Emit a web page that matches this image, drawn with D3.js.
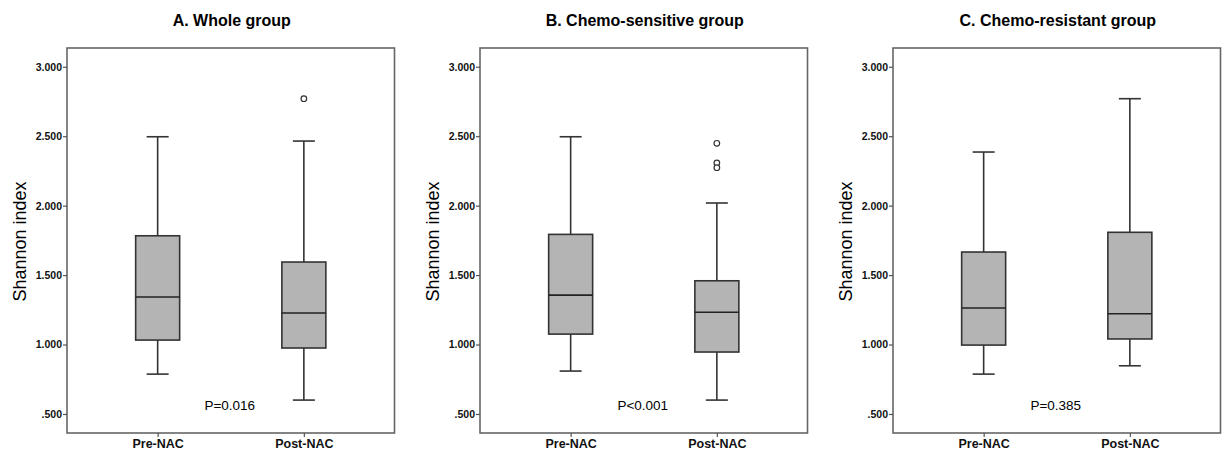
<!DOCTYPE html>
<html><head><meta charset="utf-8">
<script src="https://cdn.jsdelivr.net/npm/d3@7"></script>
<style>body{margin:0;background:#fff;} svg{display:block;}</style>
</head><body>
<script>
const categories = ["Pre-NAC", "Post-NAC"];
const panelTitles = ["A. Whole group", "B. Chemo-sensitive group", "C. Chemo-resistant group"];
const pLabels = ["P=0.016", "P<0.001", "P=0.385"];
const yTicks = [0.5, 1.0, 1.5, 2.0, 2.5, 3.0];
const yTickLabels = [".500", "1.000", "1.500", "2.000", "2.500", "3.000"];
// [lower whisker, Q1, median, Q3, upper whisker]
const wholePre = [0.787, 1.032, 1.342, 1.783, 2.496];
const wholePost = [0.600, 0.975, 1.227, 1.594, 2.465];
const wholePostOutliers = [2.770];
const sensPre = [0.809, 1.075, 1.356, 1.793, 2.496];
const sensPost = [0.600, 0.946, 1.232, 1.459, 2.019];
const sensPostOutliers = [2.449, 2.307, 2.273];
const resPre = [0.787, 0.996, 1.263, 1.666, 2.386];
const resPost = [0.847, 1.040, 1.222, 1.808, 2.770];

const panels = [
  {title: panelTitles[0], p: pLabels[0], stats: [wholePre, wholePost], outliers: [[], wholePostOutliers]},
  {title: panelTitles[1], p: pLabels[1], stats: [sensPre, sensPost], outliers: [[], sensPostOutliers]},
  {title: panelTitles[2], p: pLabels[2], stats: [resPre, resPost], outliers: [[], []]}
];

const W = 1226, H = 454;
const svg = d3.select("body").append("svg").attr("width", W).attr("height", H);
const frameLefts = [67, 480, 893];
const frameW = 327.5, plotTop = 48, plotBottom = 433;
const y = d3.scaleLinear().domain([0.363, 3.135]).range([plotBottom, plotTop]);
const font = "Arial, 'Liberation Sans', sans-serif";

panels.forEach((pn, i) => {
  const x0 = frameLefts[i];
  const g = svg.append("g");
  const x = d3.scalePoint().domain(categories).range([x0, x0 + frameW]).padding(0.62);

  // frame
  g.append("rect").attr("x", x0).attr("y", plotTop).attr("width", frameW).attr("height", plotBottom - plotTop)
    .attr("fill", "none").attr("stroke", "#666").attr("stroke-width", 1.6);

  // y axis
  const ya = g.append("g").attr("transform", `translate(${x0},0)`)
    .call(d3.axisLeft(y).tickValues(yTicks).tickSize(4).tickPadding(1)
      .tickFormat((d, k) => yTickLabels[k]));
  ya.select(".domain").remove();
  ya.selectAll("line").attr("stroke", "#555").attr("stroke-width", 1.2);
  ya.selectAll("text").attr("font-family", font).attr("font-weight", "bold")
    .attr("font-size", "10.5px").attr("fill", "#111");

  // x axis
  const xa = g.append("g").attr("transform", `translate(0,${plotBottom})`)
    .call(d3.axisBottom(x).tickSize(4).tickPadding(2));
  xa.select(".domain").remove();
  xa.selectAll("line").attr("stroke", "#555").attr("stroke-width", 1.2);
  xa.selectAll("text").attr("font-family", font).attr("font-weight", "bold")
    .attr("font-size", "12.5px").attr("fill", "#111");

  // title
  g.append("text").attr("x", x0 + frameW / 2 + 1).attr("y", 26).attr("text-anchor", "middle")
    .attr("font-family", font).attr("font-weight", "bold").attr("font-size", "16px")
    .attr("fill", "#000").text(pn.title);

  // y label
  g.append("text").attr("transform", `translate(${x0 - 41},${(plotTop + plotBottom) / 2 + 1}) rotate(-90)`)
    .attr("text-anchor", "middle").attr("font-family", font).attr("font-size", "18px")
    .attr("fill", "#000").text("Shannon index");

  // boxes
  const boxW = 44, capW = 22;
  pn.stats.forEach((s, k) => {
    const cx = x(categories[k]);
    const [lo, q1, med, q3, hi] = s;
    const bg = g.append("g").attr("stroke", "#333").attr("stroke-width", 1.6);
    bg.append("line").attr("x1", cx).attr("x2", cx).attr("y1", y(hi)).attr("y2", y(q3));
    bg.append("line").attr("x1", cx).attr("x2", cx).attr("y1", y(q1)).attr("y2", y(lo));
    bg.append("line").attr("x1", cx - capW / 2).attr("x2", cx + capW / 2).attr("y1", y(hi)).attr("y2", y(hi));
    bg.append("line").attr("x1", cx - capW / 2).attr("x2", cx + capW / 2).attr("y1", y(lo)).attr("y2", y(lo));
    bg.append("rect").attr("x", cx - boxW / 2).attr("y", y(q3)).attr("width", boxW)
      .attr("height", y(q1) - y(q3)).attr("fill", "#b4b4b4");
    bg.append("line").attr("x1", cx - boxW / 2).attr("x2", cx + boxW / 2).attr("y1", y(med)).attr("y2", y(med))
      .attr("stroke", "#222");
    g.selectAll(null).data(pn.outliers[k]).enter().append("circle")
      .attr("cx", cx).attr("cy", d => y(d)).attr("r", 2.8)
      .attr("fill", "#fff").attr("stroke", "#333").attr("stroke-width", 1.2);
  });

  // p label
  g.append("text").attr("x", x0 + frameW / 2 - 1).attr("y", 410).attr("text-anchor", "middle")
    .attr("font-family", font).attr("font-size", "13.5px").attr("fill", "#000").text(pn.p);
});
</script>
</body></html>
